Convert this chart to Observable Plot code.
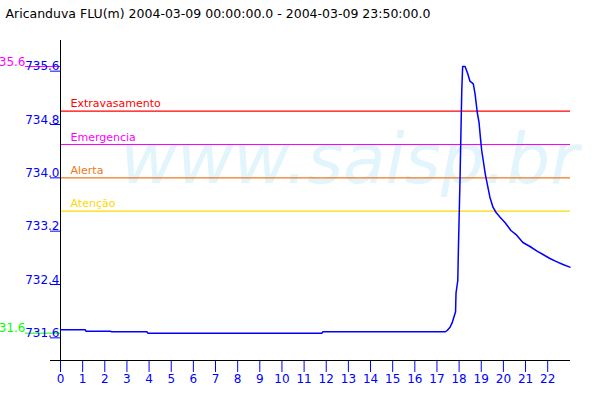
<!DOCTYPE html>
<html>
<head>
<meta charset="utf-8">
<script src="https://cdn.jsdelivr.net/npm/d3@7"></script>
<script src="https://cdn.jsdelivr.net/npm/@observablehq/plot@0.6"></script>
<style>
  html, body { margin: 0; padding: 0; background: #fff; }
  svg { display: block; }
</style>
</head>
<body>
<div id="chart"></div>
<script>
const title = "Aricanduva FLU(m) 2004-03-09 00:00:00.0 - 2004-03-09 23:50:00.0";
const watermark = "www.saisp.br";

// time in hours, level in metres
const hours = [0, 1.12, 1.15, 2.25, 2.3, 3.9, 3.95, 11.8, 11.85, 17.37, 17.46, 17.59, 17.68, 17.84, 17.86, 17.94, 17.97, 18.04, 18.12, 18.16, 18.27, 18.39, 18.49, 18.64, 18.72, 18.82, 18.90, 18.96, 19.02, 19.09, 19.18, 19.27, 19.39, 19.53, 19.67, 19.85, 20.07, 20.34, 20.60, 20.88, 21.20, 21.52, 21.79, 22.10, 22.42, 22.69, 23.00];
const levels = [731.72, 731.72, 731.70, 731.70, 731.69, 731.69, 731.67, 731.67, 731.69, 731.69, 731.71, 731.76, 731.82, 731.99, 732.27, 732.46, 732.96, 733.96, 735.31, 735.67, 735.67, 735.56, 735.45, 735.41, 735.26, 734.98, 734.83, 734.61, 734.41, 734.26, 734.06, 733.91, 733.71, 733.56, 733.48, 733.41, 733.33, 733.21, 733.14, 733.03, 732.97, 732.90, 732.85, 732.79, 732.74, 732.70, 732.66];

const thresholdNames = ["Extravasamento", "Emergencia", "Alerta", "Atenção"];
const thresholdValues = [735.0, 734.5, 734.0, 733.5];
const thresholdColors = ["#ff0000", "#ff00ff", "#f07820", "#ffd800"];

const yTicks = [731.6, 732.4, 733.2, 734.0, 734.8, 735.6];
const xTicks = [0, 1, 2, 3, 4, 5, 6, 7, 8, 9, 10, 11, 12, 13, 14, 15, 16, 17, 18, 19, 20, 21, 22];

const series = hours.map((h, i) => ({h, v: levels[i]}));
const maxV = d3.max(levels), minV = d3.min(levels);
const trunc = v => (Math.floor(v * 10 + 1e-6) / 10).toFixed(1);

const W = 600, H = 400, mL = 60, mR = 30, mT = 40, mB = 40;
const frameW = W - mL - mR;
const yDomain = [731.26, 736.06];
const font = "DejaVu Sans";

const thresholdMarks = thresholdNames.flatMap((name, i) => [
  Plot.ruleY([thresholdValues[i]], {stroke: thresholdColors[i], strokeWidth: 1.2}),
  Plot.text([name], {y: [thresholdValues[i]], text: d => d, frameAnchor: "left", textAnchor: "start", lineAnchor: "bottom", dx: 10, dy: -4, fill: thresholdColors[i], fontSize: 11})
]);

const chart = Plot.plot({
  width: W, height: H,
  marginLeft: mL, marginRight: mR, marginTop: mT, marginBottom: mB,
  style: {fontFamily: font, background: "#fff", overflow: "visible"},
  x: {domain: [0, 23.03], axis: null, label: null},
  y: {domain: yDomain, axis: null, label: null},
  marks: [
    Plot.text([watermark], {frameAnchor: "top-left", textAnchor: "start", lineAnchor: "bottom", dx: 60, dy: 142, fill: "#e2f4fc", fontSize: 69, fontStyle: "italic", text: d => d}),
    ...thresholdMarks,
    // max / min markers on the left
    Plot.ruleY([maxV], {stroke: "#ff00ff", insetLeft: -35, insetRight: frameW}),
    Plot.text([maxV], {y: d => d, text: d => trunc(d), frameAnchor: "left", textAnchor: "end", lineAnchor: "bottom", dx: -35, dy: -1, fill: "#ff00ff", fontSize: 12, letterSpacing: 1.5}),
    Plot.ruleY([minV], {stroke: "#00ff00", insetLeft: -35, insetRight: frameW}),
    Plot.text([minV], {y: d => d, text: d => trunc(d), frameAnchor: "left", textAnchor: "end", lineAnchor: "bottom", dx: -35, dy: -1, fill: "#00ff00", fontSize: 12, letterSpacing: 1.5}),
    // y ticks and labels
    Plot.ruleY(yTicks, {stroke: "blue", insetLeft: -10, insetRight: frameW}),
    Plot.text(yTicks, {y: d => d, text: d => d.toFixed(1), frameAnchor: "left", textAnchor: "end", lineAnchor: "bottom", dx: -1, dy: -1, fill: "blue", fontSize: 12}),
    // x ticks
    Plot.axisX(xTicks, {tickSize: 12, tickPadding: 2, stroke: "blue", fill: "blue", fontSize: 12, label: null, tickFormat: d => String(d)}),
    // axis lines
    Plot.ruleX([0], {stroke: "black"}),
    Plot.ruleY([yDomain[0]], {stroke: "black", insetLeft: -10}),
    // the series
    Plot.line(series, {x: "h", y: "v", stroke: "blue", strokeWidth: 1.5}),
    // title
    Plot.text([title], {frameAnchor: "top-left", textAnchor: "start", lineAnchor: "bottom", dx: -55, dy: -23, fill: "black", fontSize: 12.5, text: d => d})
  ]
});
document.getElementById("chart").appendChild(chart);
</script>
</body>
</html>
